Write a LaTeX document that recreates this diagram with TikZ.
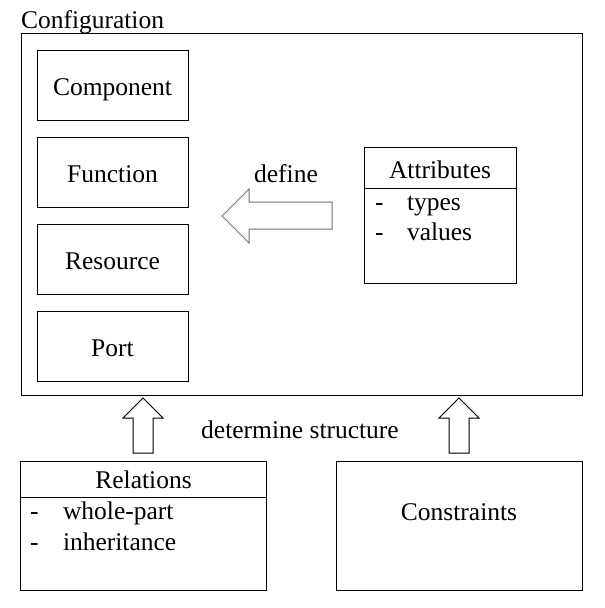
\documentclass[tikz,border=0pt]{standalone}
\usepackage{fontspec}
\setmainfont{Liberation Serif}
\begin{document}
\begin{tikzpicture}[x=1pt,y=-1pt,
  box/.style={draw=black,line width=1pt,inner sep=0pt,outer sep=0pt,anchor=north west},
  txt/.style={inner sep=0pt,outer sep=0pt,anchor=base,font=\fontsize{25.5}{30}\selectfont},
  ltxt/.style={txt,anchor=base west},
  blockarrow/.style={draw=black,line width=1pt,fill=white,line join=miter}]
\useasboundingbox (0,0) rectangle (605,608);
% Configuration frame
\node[box,minimum width=561pt,minimum height=362pt] (config) at (21,33) {};
\node[ltxt] (configlbl) at (21,28) {Configuration};
% left boxes
\node[box,minimum width=151pt,minimum height=70pt] (comp) at (37,50) {};
\node[box,minimum width=151pt,minimum height=70pt] (func) at (37,137) {};
\node[box,minimum width=151pt,minimum height=70pt] (res) at (37,224) {};
\node[box,minimum width=151pt,minimum height=70pt] (port) at (37,311) {};
\node[txt] (compt) at (112.5,95) {Component};
\node[txt] (funct) at (112.5,182) {Function};
\node[txt] (rest) at (112.5,269) {Resource};
\node[txt] (portt) at (112.5,356) {Port};
% Attributes
\node[box,minimum width=152pt,minimum height=136pt] (attr) at (364,147) {};
\draw[line width=1pt] (364,188) -- (516,188);
\node[txt] (attrt) at (440,178) {Attributes};
\node[ltxt] (d1) at (375,210) {-};
\node[ltxt] (types) at (407,210) {types};
\node[ltxt] (d2) at (375,240) {-};
\node[ltxt] (values) at (407,240) {values};
% define arrow
\draw[line width=1pt,draw=black!55,fill=white,line join=miter]
  (332,202) -- (249,202) -- (249,189) -- (222,216) -- (249,243) -- (249,229) -- (332,229) -- cycle;
\node[txt] (define) at (286,182) {define};
% Relations
\node[box,minimum width=246pt,minimum height=129pt] (rel) at (20.5,461) {};
\draw[line width=1pt] (20.5,497) -- (266.5,497);
\node[txt] (relt) at (143.5,488) {Relations};
\node[ltxt] (d3) at (30,519) {-};
\node[ltxt] (whole) at (63,519) {whole-part};
\node[ltxt] (d4) at (30,550) {-};
\node[ltxt] (inh) at (63,550) {inheritance};
% Constraints
\node[box,minimum width=246pt,minimum height=129pt] (cons) at (336,461) {};
\node[txt] (const) at (459,520) {Constraints};
% up arrows
\draw[blockarrow] (133,453) -- (133,418) -- (123,418) -- (143,398) -- (163,418) -- (153,418) -- (153,453) -- cycle;
\draw[blockarrow] (449,453) -- (449,418) -- (439,418) -- (459,398) -- (479,418) -- (469,418) -- (469,453) -- cycle;
\node[txt] (det) at (300,438) {determine structure};
\end{tikzpicture}
\end{document}
